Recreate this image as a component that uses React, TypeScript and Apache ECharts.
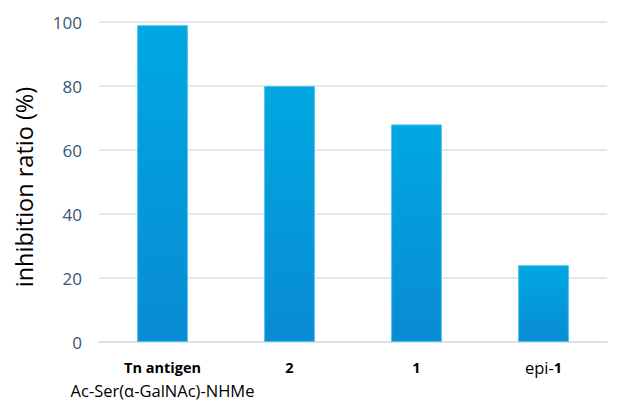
import React, { useEffect, useRef } from "react";
import * as echarts from "echarts";

const categories = ["Tn antigen", "2", "1", "epi-1"];
const categoryLabels = [
  "{b|Tn antigen}\n{n|Ac-Ser(α-GalNAc)-NHMe}",
  "{b|2}",
  "{b|1}",
  "{n|epi-}{b|1}",
];
const values = [99, 80, 68, 24];
const yTicks = { min: 0, max: 100, interval: 20 };

export default function App() {
  const ref = useRef<HTMLDivElement>(null);
  useEffect(() => {
    const chart = echarts.init(ref.current!, undefined, { renderer: "svg" });
    chart.setOption({
      animation: false,
      grid: { left: 99, right: 13, top: 22, bottom: 59 },
      xAxis: {
        type: "category",
        data: categories,
        axisTick: { show: false },
        axisLine: { lineStyle: { color: "#d9e1e8", width: 1.5 } },
        axisLabel: {
          margin: 14,
          interval: 0,
          formatter: (_v: string, i: number) => categoryLabels[i],
          rich: {
            b: { fontFamily: "Open Sans", fontSize: 14.5, fontWeight: "bold", color: "#000", lineHeight: 23 },
            n: { fontFamily: "Open Sans", fontSize: 16.5, color: "#000", lineHeight: 23 },
          },
        },
      },
      yAxis: {
        type: "value",
        min: yTicks.min,
        max: yTicks.max,
        interval: yTicks.interval,
        name: "inhibition ratio (%)",
        nameLocation: "middle",
        nameGap: 63,
        nameTextStyle: { fontFamily: "Open Sans", fontSize: 23.5, color: "#000", padding: [0, 10, 0, 0] },
        axisLine: { show: false },
        axisTick: { show: false },
        axisLabel: { margin: 17, fontFamily: "Open Sans", fontSize: 17, color: "#375674" },
        splitLine: { lineStyle: { color: "#d9e1e8", width: 1.5 } },
      },
      series: [
        {
          type: "bar",
          data: values,
          barWidth: "40%",
          itemStyle: {
            borderColor: "#4cc3ee",
            borderWidth: 1,
            color: new echarts.graphic.LinearGradient(0, 0, 0, 1, [
              { offset: 0, color: "#00a8e0" },
              { offset: 1, color: "#098bd4" },
            ]),
          },
        },
      ],
    });
    return () => chart.dispose();
  }, []);
  return <div ref={ref} style={{ width: 620, height: 401, position: "absolute", left: 0, top: 0 }} />;
}
